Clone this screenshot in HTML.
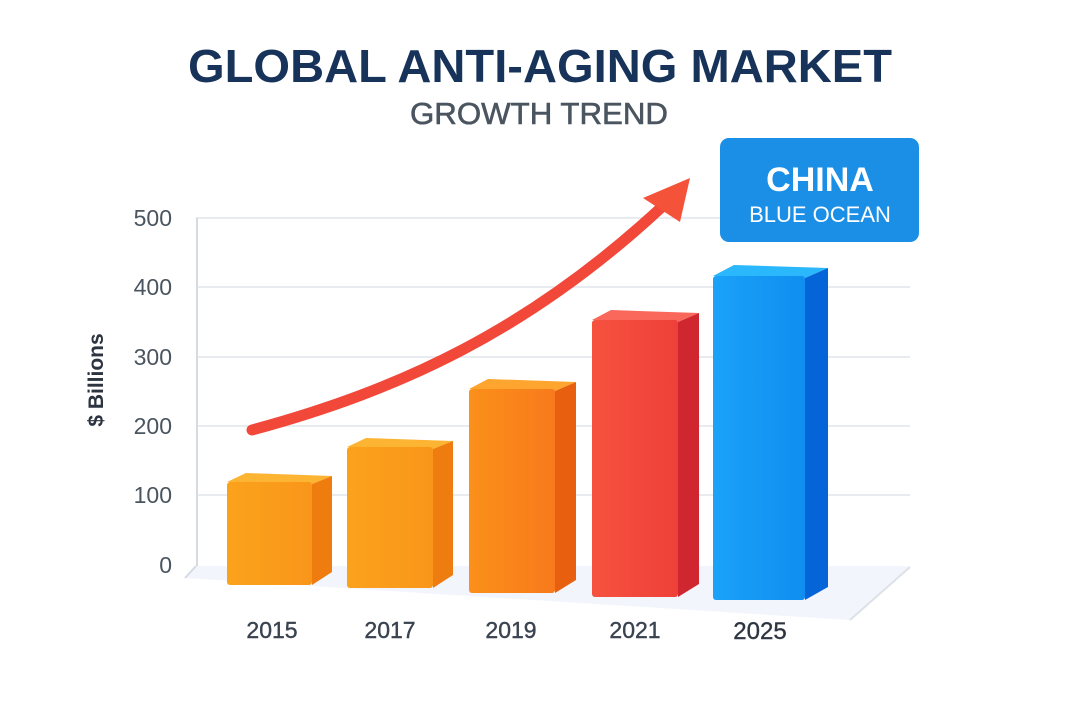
<!DOCTYPE html>
<html><head><meta charset="utf-8"><style>
html,body{margin:0;padding:0;background:#fff;}
svg{display:block;font-family:"Liberation Sans",sans-serif;}
</style></head><body>
<svg width="1080" height="720" viewBox="0 0 1080 720" xmlns="http://www.w3.org/2000/svg">
<defs>
<linearGradient id="o1" x1="0" x2="1"><stop offset="0" stop-color="#fba21c"/><stop offset="1" stop-color="#f9961a"/></linearGradient>
<linearGradient id="o3" x1="0" x2="1"><stop offset="0" stop-color="#fb901a"/><stop offset="1" stop-color="#f87a1c"/></linearGradient>
<linearGradient id="r" x1="0" x2="1"><stop offset="0" stop-color="#f6513f"/><stop offset="1" stop-color="#ee4038"/></linearGradient>
<linearGradient id="b" x1="0" x2="1"><stop offset="0" stop-color="#1aa2f8"/><stop offset="1" stop-color="#0f8ef0"/></linearGradient>
</defs>
<text x="540" y="82" text-anchor="middle" font-size="46" font-weight="bold" fill="#17335a" textLength="704" lengthAdjust="spacingAndGlyphs">GLOBAL ANTI-AGING MARKET</text>
<text x="539" y="124" text-anchor="middle" font-size="31" fill="#4a5560" stroke="#4a5560" stroke-width="0.6" textLength="258" lengthAdjust="spacingAndGlyphs">GROWTH TREND</text>
<g stroke="#e8ebf0" stroke-width="2">
<line x1="196" y1="218" x2="910" y2="218"/><line x1="196" y1="287" x2="910" y2="287"/>
<line x1="196" y1="357" x2="910" y2="357"/><line x1="196" y1="426" x2="910" y2="426"/>
<line x1="196" y1="495" x2="910" y2="495"/>
</g>
<line x1="197" y1="218" x2="197" y2="566" stroke="#d6dbe3" stroke-width="2"/>
<polygon points="196,566 910,566 850,620 185,578" fill="#f2f5fb"/>
<line x1="185" y1="578" x2="196" y2="566" stroke="#d6dbe3" stroke-width="2"/>
<line x1="910" y1="567" x2="850" y2="620" stroke="#dde1e8" stroke-width="2"/>
<g font-size="23" fill="#4a5560" text-anchor="end">
<text x="172" y="226">500</text><text x="172" y="295">400</text><text x="172" y="365">300</text>
<text x="172" y="434">200</text><text x="172" y="503">100</text><text x="172" y="573">0</text>
</g>
<text transform="translate(103,380) rotate(-90)" text-anchor="middle" font-size="21" font-weight="bold" fill="#2c3440">$ Billions</text>
<polygon points="227,482 246,473 332,476 312,484" fill="#fdb433"/>
<polygon points="312,484 332,476 332,572 312,585" fill="#ef7c0e"/>
<rect x="227" y="482" width="85" height="103" rx="3" fill="url(#o1)"/>
<polygon points="347,447 366,438 453,441 433,449" fill="#fdb433"/>
<polygon points="433,449 453,441 453,575 433,588" fill="#ef7c0e"/>
<rect x="347" y="447" width="86" height="141" rx="3" fill="url(#o1)"/>
<polygon points="469,389 488,379 576,382 555,391" fill="#fda52e"/>
<polygon points="555,391 576,382 576,580 555,593" fill="#e8600f"/>
<rect x="469" y="389" width="86" height="204" rx="3" fill="url(#o3)"/>
<polygon points="592,320 611,310 699,313 678,322" fill="#f9685a"/>
<polygon points="678,322 699,313 699,584 678,597" fill="#cf2630"/>
<rect x="592" y="320" width="86" height="277" rx="3" fill="url(#r)"/>
<polygon points="713,276 734,265 828,268 805,278" fill="#2ab7fb"/>
<polygon points="805,278 828,268 828,587 805,600" fill="#0565d8"/>
<rect x="713" y="276" width="92" height="324" rx="3" fill="url(#b)"/>
<path d="M252,430 C400,390 530,330 664,205" fill="none" stroke="#f2483a" stroke-width="11" stroke-linecap="round"/>
<polygon points="690,178 643,198 680,222" fill="#f5523a"/>
<rect x="720" y="138" width="199" height="104" rx="9" fill="#1b8fe6"/>
<text x="820" y="191" text-anchor="middle" font-size="34" font-weight="bold" fill="#fff">CHINA</text>
<text x="820" y="222" text-anchor="middle" font-size="22" fill="#fff">BLUE OCEAN</text>
<g font-size="23" fill="#3a4350" text-anchor="middle" stroke="#3a4350" stroke-width="0.4">
<text x="272" y="638">2015</text><text x="390" y="638">2017</text><text x="511" y="638">2019</text>
<text x="635" y="638">2021</text><text x="760" y="639" font-size="24" fill="#2c3440">2025</text>
</g>
</svg>
</body></html>
